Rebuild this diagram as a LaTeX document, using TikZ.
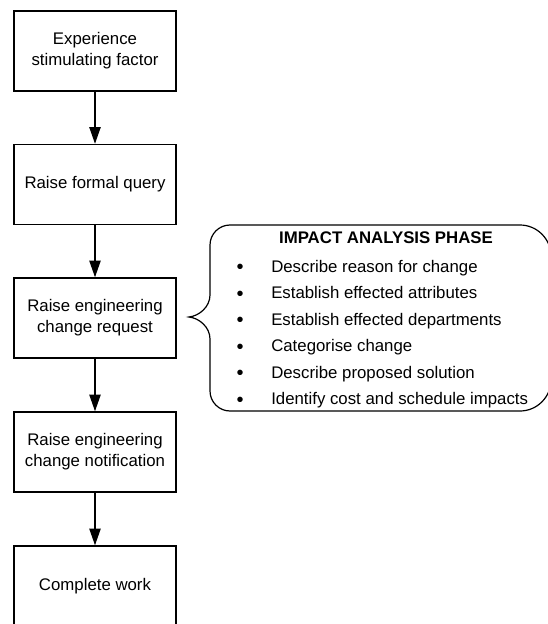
\documentclass[tikz,border=0pt]{standalone}
\usepackage{fontspec}
\setmainfont{Liberation Sans}
\usetikzlibrary{arrows.meta}
\begin{document}
\begin{tikzpicture}[x=0.75pt,y=-0.75pt,
  every node/.style={font=\fontsize{12.6pt}{15.75pt}\selectfont},
  proc/.style={draw, line width=1.1pt, minimum width=121.5pt, minimum height=60pt, align=center, inner sep=0pt},
  arr/.style={line width=0.9pt, -{Triangle[length=12.5pt,width=8.5pt]}},
  callout/.style={line width=0.9pt},
  bul/.style={anchor=base, inner sep=0pt, font=\fontsize{15pt}{15pt}\selectfont},
  itemtext/.style={anchor=base west, inner sep=0pt}]
\path[use as bounding box] (0,0) rectangle (548,624);
\clip (0,0) rectangle (548,624);
\node[proc] (b1) at (95,51) {Experience\\stimulating factor};
\node[proc] (b2) at (95,184.5) {Raise formal query};
\node[proc] (b3) at (95,318) {Raise engineering\\change request};
\node[proc] (b4) at (95,452) {Raise engineering\\change notification};
\node[proc] (b5) at (95,586) {Complete work};
\draw[arr] (b1) -- (b2);
\draw[arr] (b2) -- (b3);
\draw[arr] (b3) -- (b4);
\draw[arr] (b4) -- (b5);
\coordinate (tip) at (189,317);
\draw[callout] (230,225) -- (520,225) .. controls (537,225) and (551,239) .. (551,256)
  -- (551,380) .. controls (551,397) and (537,411) .. (520,411)
  -- (230,411) .. controls (219,411) and (210,402) .. (210,391)
  -- (210,339) .. controls (210,327) and (199,318) .. (tip)
  .. controls (199,316) and (210,307) .. (210,295)
  -- (210,245) .. controls (210,234) and (219,225) .. (230,225) -- cycle;
\node[anchor=base, inner sep=0pt, font=\fontsize{12.6pt}{15.75pt}\selectfont\bfseries] (title) at (386,243) {IMPACT ANALYSIS PHASE};
\foreach \y/\t [count=\i] in {272/Describe reason for change, 298.5/Establish effected attributes, 325/Establish effected departments, 351.5/Categorise change, 378/Describe proposed solution, 404.5/Identify cost and schedule impacts}{
  \node[bul] (bullet\i) at (240,\y+1.5) {\textbullet};
  \node[itemtext] (item\i) at (271,\y) {\t};
}
\end{tikzpicture}
\end{document}
